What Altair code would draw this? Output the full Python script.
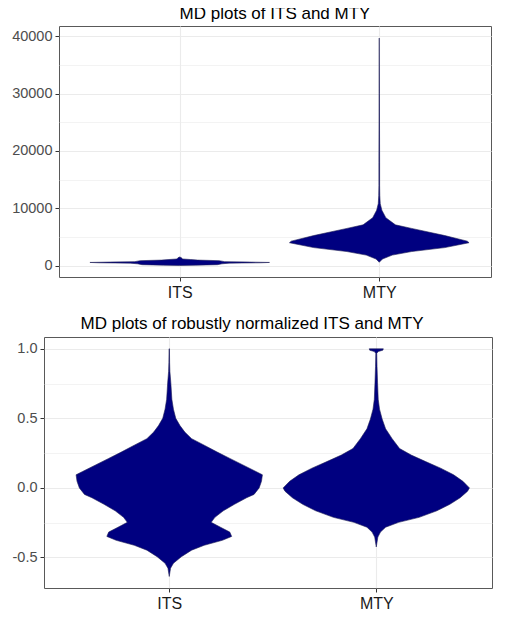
import altair as alt
import pandas as pd

groups = ["ITS", "MTY"]

# ---- top panel: MD plots of raw ITS and MTY (value, relative half-width) ----
its_raw_y = [0, 60, 150, 300, 420, 480, 540, 600, 680, 850, 950, 1050, 1150, 1350, 1500]
its_raw_w = [0.0, 0.18, 0.42, 0.47, 0.55, 0.9, 1.0, 0.8, 0.5, 0.44, 0.2, 0.12, 0.03, 0.02, 0.0]

mty_raw_y = [570, 1140, 1820, 2440, 3130, 3980, 4260, 5230, 6480, 7100, 8350, 9660,
             10800, 12200, 14000, 18000, 24000, 30000, 39700]
mty_raw_w = [0.0, 0.036, 0.145, 0.36, 0.73, 1.0, 0.98, 0.73, 0.36, 0.18, 0.073, 0.029,
             0.011, 0.006, 0.004, 0.004, 0.003, 0.002, 0.0]

# ---- bottom panel: robustly normalized ----
its_norm_y = [-0.637, -0.578, -0.542, -0.495, -0.448, -0.413, -0.377, -0.349, -0.318, -0.283,
              -0.248, -0.212, -0.165, -0.118, -0.071, -0.047, 0.0, 0.047, 0.094, 0.118,
              0.165, 0.212, 0.259, 0.307, 0.354, 0.401, 0.448, 0.5, 0.566, 0.637, 0.755,
              0.837, 0.9, 1.0]
its_norm_w = [0.0, 0.014, 0.045, 0.13, 0.24, 0.375, 0.57, 0.67, 0.65, 0.55,
              0.45, 0.49, 0.58, 0.70, 0.83, 0.91, 0.965, 0.99, 1.0, 0.93,
              0.79, 0.65, 0.51, 0.375, 0.24, 0.167, 0.115, 0.07, 0.045, 0.028, 0.017,
              0.007, 0.004, 0.002]

mty_norm_y = [-0.425, -0.354, -0.318, -0.283, -0.248, -0.212, -0.165, -0.118, -0.071, -0.024,
              0.0, 0.047, 0.094, 0.142, 0.189, 0.236, 0.283, 0.354, 0.425, 0.495,
              0.566, 0.637, 0.755, 0.873, 0.967, 0.98, 0.99, 1.0]
mty_norm_w = [0.0, 0.017, 0.045, 0.10, 0.24, 0.46, 0.65, 0.79, 0.90, 0.98,
              1.0, 0.93, 0.83, 0.69, 0.53, 0.375, 0.25, 0.17, 0.10, 0.063,
              0.035, 0.021, 0.014, 0.008, 0.005, 0.02, 0.07, 0.076]

raw_major = [0, 10000, 20000, 30000, 40000]
raw_minor = [5000, 15000, 25000, 35000]
norm_major = [-0.5, 0.0, 0.5, 1.0]
norm_minor = [-0.25, 0.25, 0.75]

titles = ["MD plots of ITS and MTY", "MD plots of robustly normalized ITS and MTY"]

FILL = "#000080"
GRID = "#EBEBEB"
FRAME = "#595959"
FONT = "Liberation Sans"


def make_df(pairs):
    rows = []
    for gi, (ys, ws) in enumerate(pairs):
        for y, w in zip(ys, ws):
            rows.append({"group": groups[gi], "pos": gi, "value": y, "w": w})
    return pd.DataFrame(rows)


def panel(df, title, frame, offset, ydomain, major, minor, fmt, xdomain, width, height):
    ticks = sorted(major + minor)
    test = " || ".join(f"datum.value == {v}" for v in major)
    yaxis = alt.Axis(
        values=ticks, title=None, format=fmt,
        labelExpr=f"({test}) ? replace(datum.label, '\u2212', '-') : ''",
        grid=True, gridColor=GRID,
        gridWidth={"condition": {"test": test, "value": 1.1}, "value": 0.6},
        tickOpacity={"condition": {"test": test, "value": 1}, "value": 0},
        tickSize=4, tickColor="#333333", domain=False,
        labelFontSize=14.5, labelColor="#4D4D4D", labelPadding=3,
    )
    xaxis = alt.Axis(
        values=[0, 1], title=None,
        labelExpr=f"datum.value == 0 ? '{groups[0]}' : '{groups[1]}'",
        labelFlush=False, grid=True, gridColor=GRID, gridWidth=1.1,
        tickSize=4, tickColor="#333333", domain=False,
        labelFontSize=16, labelColor="#1A1A1A", labelPadding=3,
    )
    xs = alt.Scale(domain=xdomain, nice=False, zero=False)
    ys = alt.Scale(domain=ydomain, nice=False, zero=False)
    violin = alt.Chart(df).transform_calculate(
        xl="datum.pos - 0.45 * datum.w", xr="datum.pos + 0.45 * datum.w"
    ).mark_area(orient="horizontal", color=FILL, stroke="#1E1E55",
                strokeWidth=0.6).encode(
        y=alt.Y("value:Q", scale=ys, axis=yaxis),
        x=alt.X("xl:Q", scale=xs, axis=xaxis),
        x2="xr:Q",
        detail="group:N",
    )
    return violin.properties(
        width=width, height=height,
        title=alt.TitleParams(title, frame=frame, anchor="middle", offset=offset),
    )


def spacer():
    # empty narrow cell so that both rows' y-axis labels start at the same left edge
    return alt.Chart(pd.DataFrame({"v": [0]})).mark_rule(opacity=0, strokeWidth=0).encode(
        x=alt.value(0), y=alt.value(0), y2=alt.value(1)
    ).properties(width=1, height=1, view=alt.ViewBackground(stroke=None))


df_raw = make_df([(its_raw_y, its_raw_w), (mty_raw_y, mty_raw_w)])
df_norm = make_df([(its_norm_y, its_norm_w), (mty_norm_y, mty_norm_w)])

p1 = panel(df_raw, titles[0], "group", 3, [-2000, 41800], raw_major, raw_minor, "d",
           [-0.605, 1.560], 432, 251)
p2 = panel(df_norm, titles[1], "bounds", 4, [-0.72, 1.085], norm_major, norm_minor, ".1f",
           [-0.605, 1.559], 448, 251)

row1 = alt.hconcat(spacer(), p1, spacing=0)
row2 = alt.hconcat(spacer(), p2, spacing=0)

chart = alt.vconcat(row1, row2, spacing=13).properties(
    padding={"left": 2, "top": -4, "right": 0, "bottom": -3}
).configure_view(stroke=FRAME, strokeWidth=1).configure_axis(
    labelFont=FONT
).configure_title(
    font=FONT, fontSize=17, color="#000000", fontWeight="normal"
)

chart.save("out.html", embed_options={"renderer": "svg", "actions": False})
